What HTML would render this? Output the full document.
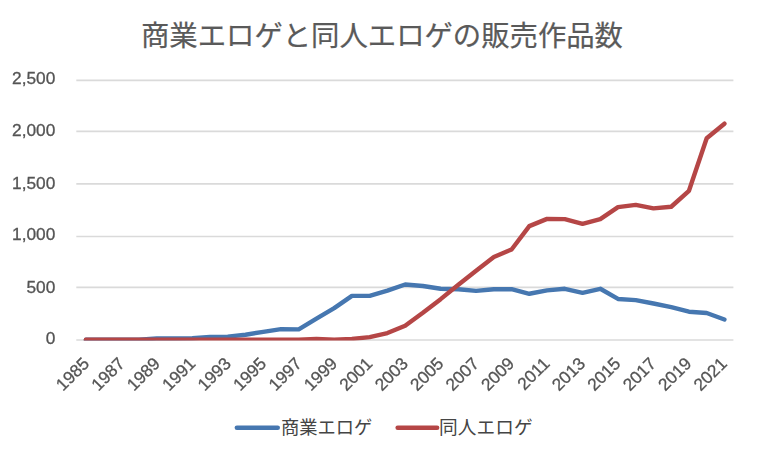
<!DOCTYPE html>
<html lang="ja"><head><meta charset="utf-8"><title>商業エロゲと同人エロゲの販売作品数</title>
<style>html,body{margin:0;padding:0;background:#fff;}body{width:760px;height:457px;overflow:hidden;font-family:"Liberation Sans",sans-serif;}svg{display:block;}text{font-family:"Liberation Sans",sans-serif;font-size:17.30px;fill:#545454;stroke:#545454;stroke-width:0.3px;}</style></head><body>
<svg width="760" height="457" viewBox="0 0 760 457" role="img" aria-label="商業エロゲと同人エロゲの販売作品数 折れ線グラフ">
<rect width="760" height="457" fill="#ffffff"/>
<g stroke="#DADADA" stroke-width="1.70" fill="none">
<line x1="76.3" y1="340.00" x2="733.4" y2="340.00"/>
<line x1="76.3" y1="287.40" x2="733.4" y2="287.40"/>
<line x1="76.3" y1="236.50" x2="733.4" y2="236.50"/>
<line x1="76.3" y1="183.90" x2="733.4" y2="183.90"/>
<line x1="76.3" y1="131.30" x2="733.4" y2="131.30"/>
<line x1="76.3" y1="80.40" x2="733.4" y2="80.40"/>
</g>
<g text-anchor="end" style="filter:grayscale(1)">
<text x="55.3" y="343.50">0</text>
<text x="55.3" y="292.85">500</text>
<text x="55.3" y="240.35">1,000</text>
<text x="55.3" y="189.00">1,500</text>
<text x="55.3" y="136.40">2,000</text>
<text x="55.3" y="83.90">2,500</text>
</g>
<g text-anchor="end" style="filter:grayscale(1)">
<text transform="translate(90.27 364.60) rotate(-45)">1985</text>
<text transform="translate(125.69 364.60) rotate(-45)">1987</text>
<text transform="translate(161.12 364.60) rotate(-45)">1989</text>
<text transform="translate(196.55 364.60) rotate(-45)">1991</text>
<text transform="translate(231.97 364.60) rotate(-45)">1993</text>
<text transform="translate(267.40 364.60) rotate(-45)">1995</text>
<text transform="translate(302.82 364.60) rotate(-45)">1997</text>
<text transform="translate(338.25 364.60) rotate(-45)">1999</text>
<text transform="translate(373.67 364.60) rotate(-45)">2001</text>
<text transform="translate(409.10 364.60) rotate(-45)">2003</text>
<text transform="translate(444.53 364.60) rotate(-45)">2005</text>
<text transform="translate(479.95 364.60) rotate(-45)">2007</text>
<text transform="translate(515.38 364.60) rotate(-45)">2009</text>
<text transform="translate(550.80 364.60) rotate(-45)">2011</text>
<text transform="translate(586.23 364.60) rotate(-45)">2013</text>
<text transform="translate(621.65 364.60) rotate(-45)">2015</text>
<text transform="translate(657.08 364.60) rotate(-45)">2017</text>
<text transform="translate(692.51 364.60) rotate(-45)">2019</text>
<text transform="translate(727.93 364.60) rotate(-45)">2021</text>
</g>
<clipPath id="pc"><rect x="0" y="0" width="760" height="340.45"/></clipPath>
<g clip-path="url(#pc)">
<polyline points="85.87,339.80 103.61,339.80 121.34,339.80 139.08,339.80 156.82,338.45 174.56,338.45 192.30,338.24 210.03,337.00 227.77,336.59 245.51,334.72 263.25,331.82 280.99,329.12 298.72,329.33 316.46,318.65 334.20,308.17 351.94,295.83 369.67,295.83 387.41,290.65 405.15,284.53 422.89,285.98 440.63,288.78 458.36,289.30 476.10,290.86 493.84,289.20 511.58,289.20 529.31,293.76 547.05,290.34 564.79,288.78 582.53,292.83 600.27,288.78 618.00,298.94 635.74,300.08 653.48,303.51 671.22,307.14 688.96,311.70 706.69,313.05 724.43,319.48" fill="none" stroke="#4677B0" stroke-width="4.40" stroke-linecap="round" stroke-linejoin="round"/>
<polyline points="85.87,339.80 103.61,339.80 121.34,339.80 139.08,339.80 156.82,339.80 174.56,339.80 192.30,339.80 210.03,339.80 227.77,339.80 245.51,339.80 263.25,339.80 280.99,339.80 298.72,339.80 316.46,338.97 334.20,339.80 351.94,338.97 369.67,337.10 387.41,333.06 405.15,325.70 422.89,312.74 440.63,299.15 458.36,284.74 476.10,270.74 493.84,256.95 511.58,249.48 529.31,226.15 547.05,218.89 564.79,219.10 582.53,223.76 600.27,219.10 618.00,207.17 635.74,204.89 653.48,208.42 671.22,206.76 688.96,190.79 706.69,138.21 724.43,123.70" fill="none" stroke="#B54646" stroke-width="4.40" stroke-linecap="round" stroke-linejoin="round"/>
</g>
<g fill="none" stroke-width="4.60" stroke-linecap="round">
<line x1="236.9" y1="427.8" x2="277.7" y2="427.8" stroke="#4677B0"/>
<line x1="397.7" y1="427.8" x2="437.1" y2="427.8" stroke="#B54646"/>
</g>
<text x="382" y="45.5" text-anchor="middle" textLength="482" lengthAdjust="spacing" style="font-family:'Liberation Sans','Noto Sans CJK JP',sans-serif;font-size:28.4px;fill:#5a5a5a;stroke:#5a5a5a;stroke-width:0.2px;">商業エロゲと同人エロゲの販売作品数</text>
<text x="280.9" y="433.6" textLength="91.5" lengthAdjust="spacing" style="font-family:'Liberation Sans','Noto Sans CJK JP',sans-serif;font-size:18.3px;fill:#454545;stroke:none;">商業エロゲ</text>
<text x="439.1" y="433.6" textLength="93.6" lengthAdjust="spacing" style="font-family:'Liberation Sans','Noto Sans CJK JP',sans-serif;font-size:18.7px;fill:#454545;stroke:none;">同人エロゲ</text>
</svg></body></html>
